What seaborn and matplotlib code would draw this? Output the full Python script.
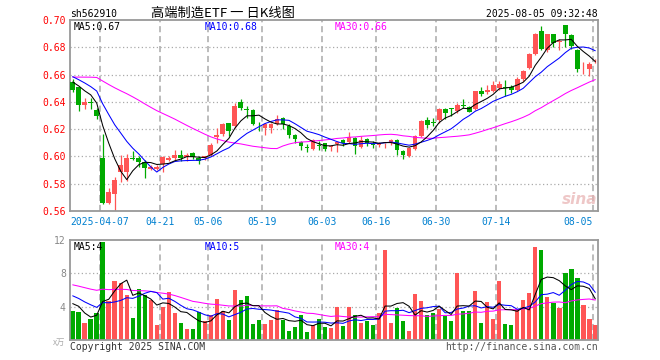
import numpy as np
import pandas as pd
import matplotlib
matplotlib.use("Agg")
import matplotlib.pyplot as plt
import seaborn as sns

# ---------------- data ----------------
open_ = [0.6548, 0.6506, 0.6380, 0.6400, 0.6338, 0.5992, 0.5659, 0.5726, 0.5886, 0.5886,
         0.5990, 0.5992, 0.5960, 0.5906, 0.5906, 0.5946, 0.5973, 0.5990, 0.6012, 0.5995,
         0.6025, 0.5985, 0.5985, 0.6012, 0.6145, 0.6162, 0.6242, 0.6223, 0.6400, 0.6345,
         0.6337, 0.6218, 0.6211, 0.6211, 0.6235, 0.6284, 0.6223, 0.6158, 0.6109, 0.6065,
         0.6053, 0.6085, 0.6095, 0.6068, 0.6088, 0.6123, 0.6104, 0.6136, 0.6069, 0.6128,
         0.6094, 0.6086, 0.6099, 0.6106, 0.6123, 0.6042, 0.6000, 0.6054, 0.6153, 0.6264,
         0.6249, 0.6264, 0.6350, 0.6350, 0.6333, 0.6378, 0.6360, 0.6347, 0.6483, 0.6470,
         0.6483, 0.6500, 0.6508, 0.6512, 0.6490, 0.6569, 0.6647, 0.6753, 0.6921, 0.6778,
         0.6896, 0.6839, 0.6967, 0.6889, 0.6778, 0.6638, 0.6643, 0.6697]
high = [0.6568, 0.6510, 0.6425, 0.6425, 0.6358, 0.6168, 0.5768, 0.5852, 0.6012, 0.6017,
        0.6037, 0.6000, 0.5975, 0.5936, 0.5938, 0.6000, 0.6000, 0.6044, 0.6049, 0.6025,
        0.6030, 0.6000, 0.6005, 0.6102, 0.6206, 0.6247, 0.6247, 0.6393, 0.6424, 0.6373,
        0.6345, 0.6255, 0.6247, 0.6247, 0.6301, 0.6291, 0.6235, 0.6162, 0.6114, 0.6090,
        0.6126, 0.6110, 0.6102, 0.6085, 0.6114, 0.6128, 0.6178, 0.6143, 0.6153, 0.6133,
        0.6111, 0.6104, 0.6102, 0.6128, 0.6128, 0.6049, 0.6069, 0.6160, 0.6264, 0.6291,
        0.6284, 0.6358, 0.6358, 0.6352, 0.6395, 0.6420, 0.6372, 0.6483, 0.6507, 0.6520,
        0.6556, 0.6556, 0.6561, 0.6520, 0.6581, 0.6630, 0.6760, 0.6908, 0.6957, 0.6901,
        0.6901, 0.6859, 0.6967, 0.6898, 0.6785, 0.6692, 0.6692, 0.6712]
low = [0.6469, 0.6333, 0.6350, 0.6345, 0.6271, 0.5649, 0.5649, 0.5597, 0.5815, 0.5817,
       0.5975, 0.5926, 0.5844, 0.5900, 0.5900, 0.5884, 0.5963, 0.5975, 0.5968, 0.5968,
       0.5980, 0.5948, 0.5975, 0.6000, 0.6102, 0.6150, 0.6150, 0.6211, 0.6337, 0.6284,
       0.6228, 0.6187, 0.6155, 0.6175, 0.6228, 0.6204, 0.6138, 0.6097, 0.6046, 0.6036,
       0.6046, 0.6046, 0.6041, 0.6041, 0.6029, 0.6074, 0.6099, 0.6020, 0.6062, 0.6074,
       0.6062, 0.6069, 0.6062, 0.6086, 0.6012, 0.5983, 0.5993, 0.6044, 0.6143, 0.6210,
       0.6222, 0.6247, 0.6271, 0.6296, 0.6321, 0.6358, 0.6323, 0.6342, 0.6441, 0.6458,
       0.6470, 0.6490, 0.6441, 0.6465, 0.6483, 0.6556, 0.6643, 0.6746, 0.6778, 0.6766,
       0.6802, 0.6778, 0.6802, 0.6790, 0.6618, 0.6606, 0.6593, 0.6687]
close = [0.6486, 0.6378, 0.6400, 0.6393, 0.6296, 0.5659, 0.5738, 0.5827, 0.5936, 0.5990,
         0.5983, 0.5960, 0.5918, 0.5923, 0.5921, 0.5997, 0.5987, 0.6012, 0.5985, 0.6012,
         0.5995, 0.5968, 0.6000, 0.6082, 0.6155, 0.6235, 0.6189, 0.6373, 0.6352, 0.6340,
         0.6235, 0.6213, 0.6235, 0.6235, 0.6272, 0.6235, 0.6155, 0.6126, 0.6078, 0.6063,
         0.6119, 0.6080, 0.6053, 0.6073, 0.6105, 0.6099, 0.6143, 0.6074, 0.6123, 0.6099,
         0.6086, 0.6099, 0.6101, 0.6123, 0.6044, 0.6012, 0.6062, 0.6153, 0.6257, 0.6234,
         0.6244, 0.6350, 0.6321, 0.6348, 0.6375, 0.6373, 0.6328, 0.6478, 0.6458, 0.6490,
         0.6520, 0.6532, 0.6505, 0.6490, 0.6569, 0.6623, 0.6753, 0.6901, 0.6790, 0.6896,
         0.6834, 0.6849, 0.6901, 0.6810, 0.6643, 0.6643, 0.6680, 0.6699]
volume = [3.52, 3.40, 2.08, 2.56, 3.28, 11.8, 4.72, 7.12, 6.84, 5.44,
          2.68, 6.16, 5.44, 4.84, 1.84, 4.00, 5.80, 3.28, 2.08, 1.36,
          1.36, 3.40, 2.32, 3.04, 4.96, 3.52, 2.44, 6.04, 4.84, 5.32,
          1.96, 2.44, 1.96, 2.44, 3.64, 2.44, 1.12, 1.60, 3.04, 1.00,
          1.84, 2.56, 1.60, 1.48, 4.00, 1.72, 4.00, 3.04, 2.08, 2.32,
          1.84, 3.28, 10.84, 2.08, 3.88, 2.32, 1.12, 5.56, 4.72, 3.04,
          3.28, 3.76, 2.92, 2.32, 8.08, 3.52, 3.52, 5.92, 2.08, 4.60,
          2.56, 7.12, 1.96, 1.84, 3.76, 4.84, 5.68, 11.2, 10.84, 5.20,
          4.48, 3.88, 8.08, 8.56, 7.48, 4.24, 2.56, 1.84]
# sessions before the visible window (estimated from where the MA lines start)
prior_close = [0.638, 0.641, 0.640, 0.636, 0.645,
               0.650, 0.655, 0.660, 0.662, 0.668, 0.670, 0.672, 0.668, 0.665, 0.662,
               0.660, 0.664, 0.668, 0.670, 0.666,
               0.660, 0.664, 0.666, 0.662, 0.660,
               0.652, 0.658, 0.654, 0.660]
prior_volume = [8.2, 7.5, 7.9, 7.4, 7.7,
                6.5, 6.0, 6.6, 6.2, 6.3,
                6.8, 6.1, 6.5, 6.2, 6.4,
                9.0, 8.6, 8.8, 8.4, 8.5,
                6.6, 6.2, 6.0, 6.4, 6.0,
                5.0, 6.1, 5.0, 2.2]
tick_index = [5, 15, 23, 32, 42, 51, 61, 71, 87]
tick_labels = ["2025-04-07", "04-21", "05-06", "05-19", "06-03",
               "06-16", "06-30", "07-14", "08-05"]
price_ticks = [0.56, 0.58, 0.60, 0.62, 0.64, 0.66, 0.68, 0.70]
volume_ticks = [4, 8, 12]

# ---------------- styling ----------------
sns.set_theme(style="white")
plt.rcParams["font.family"] = ["DejaVu Sans Mono", "Noto Sans CJK SC"]
MONO = ["DejaVu Sans Mono", "Noto Sans CJK SC"]
CJK = ["Noto Sans CJK SC", "DejaVu Sans"]
RED = "#ff5555"
GREEN = "#00aa00"
MAG = "#ff00ff"
BLUE = "#0000ff"
GRID = "#aaaaaa"
SPINE = "#999999"
LW = 0.75

n = len(close)
x = np.arange(n)
o = np.array(open_); c = np.array(close); h = np.array(high); l = np.array(low)
up = c >= o
cols = np.where(up, RED, GREEN)

all_close = pd.Series(prior_close + close)
all_vol = pd.Series(prior_volume + volume)
k = len(prior_close)
ma = {w: all_close.rolling(w).mean().to_numpy()[k:] for w in (5, 10, 30)}
vma = {w: all_vol.rolling(w).mean().to_numpy()[k:] for w in (5, 10, 30)}

W, H = 660, 360
fig = plt.figure(figsize=(6.6, 3.6), dpi=100)
fig.patch.set_facecolor("white")
ax = fig.add_axes([70 / W, 1 - 211 / H, 528 / W, 191 / H])
axv = fig.add_axes([70 / W, 1 - 340 / H, 528 / W, 100 / H])

XL = (-0.45, n - 1 + 0.45)
gridx = [t - 0.45 for t in tick_index]

# ---- price panel ----
for yv in price_ticks[1:-1]:
    ax.axhline(yv, color=GRID, lw=0.9, ls=(0, (1, 2)), zorder=0)
for gx in gridx:
    ax.axvline(gx, color=GRID, lw=1.1, ls=(0, (4, 2.5)), zorder=0)

ax.vlines(x, l, h, colors=cols, lw=0.9, zorder=2)
body_bottom = np.minimum(o, c)
body_h = np.maximum(np.abs(c - o), 0.0006)
ax.bar(x, body_h, bottom=body_bottom, width=0.8, color=cols, linewidth=0, zorder=3)

sns.lineplot(x=x, y=ma[30], ax=ax, color=MAG, lw=LW, zorder=4)
sns.lineplot(x=x, y=ma[10], ax=ax, color=BLUE, lw=LW, zorder=4)
sns.lineplot(x=x, y=ma[5], ax=ax, color="black", lw=LW, zorder=5)

ax.set_xlim(*XL)
ax.set_ylim(0.56, 0.70)
ax.set_yticks(price_ticks)
ax.set_yticklabels([f"{v:.2f}" for v in price_ticks], color="#ff0000",
                   fontsize=7, family=MONO)
ax.set_xticks(gridx)
ax.set_xticklabels(tick_labels, color="#0080d0", fontsize=7, family=MONO)
ax.get_xticklabels()[-1].set_ha("right")
ax.tick_params(axis="both", length=0)
ax.tick_params(axis="y", pad=3)
ax.tick_params(axis="x", pad=4.5)
ax.set_xlabel(""); ax.set_ylabel("")
for s in ax.spines.values():
    s.set_color(SPINE); s.set_linewidth(1.3)

# ---- volume panel ----
for yv in volume_ticks[:-1]:
    axv.axhline(yv, color=GRID, lw=0.9, ls=(0, (1, 2)), zorder=0)
for gx in gridx:
    axv.axvline(gx, color=GRID, lw=1.1, ls=(0, (4, 2.5)), zorder=0)

vdf = pd.DataFrame({"idx": x, "vol": volume, "dir": np.where(up, "up", "down")})
sns.barplot(data=vdf, x="idx", y="vol", hue="dir", palette={"up": RED, "down": GREEN},
            dodge=False, width=0.75, saturation=1, legend=False, ax=axv, zorder=2,
            linewidth=0)
sns.lineplot(x=x, y=vma[30], ax=axv, color=MAG, lw=LW, zorder=4)
sns.lineplot(x=x, y=vma[10], ax=axv, color=BLUE, lw=LW, zorder=4)
sns.lineplot(x=x, y=vma[5], ax=axv, color="black", lw=LW, zorder=5)

axv.set_xlim(*XL)
axv.set_ylim(0, 12)
axv.set_xticks([])
axv.set_yticks(volume_ticks)
axv.set_yticklabels([str(v) for v in volume_ticks], color="#888888",
                    fontsize=7, family=MONO)
axv.tick_params(axis="both", length=0)
axv.tick_params(axis="y", pad=3)
axv.set_xlabel(""); axv.set_ylabel("")
for s in axv.spines.values():
    s.set_color(SPINE); s.set_linewidth(1.3)


def ftext(px, py, s, **kw):
    fig.text(px / W, 1 - py / H, s, **kw)


# ---- texts ----
ftext(70, 16.8, "sh562910", ha="left", va="baseline", fontsize=7, family=MONO, color="black")
ftext(223, 16.5, "高端制造ETF 一 日K线图", ha="center", va="baseline", fontsize=9.5,
      family=CJK, color="black")
ftext(598, 16.8, "2025-08-05 09:32:48", ha="right", va="baseline", fontsize=7,
      family=MONO, color="black")
ftext(74, 30, "MA5:0.67", ha="left", va="baseline", fontsize=7, family=MONO, color="black")
ftext(205, 30, "MA10:0.68", ha="left", va="baseline", fontsize=7, family=MONO, color=BLUE)
ftext(335, 30, "MA30:0.66", ha="left", va="baseline", fontsize=7, family=MONO, color=MAG)
ftext(74, 249.5, "MA5:4", ha="left", va="baseline", fontsize=7, family=MONO, color="black")
ftext(205, 249.5, "MA10:5", ha="left", va="baseline", fontsize=7, family=MONO, color=BLUE)
ftext(335, 249.5, "MA30:4", ha="left", va="baseline", fontsize=7, family=MONO, color=MAG)
ftext(65, 345, "x万", ha="right", va="baseline", fontsize=6, family=CJK, color="#aaaaaa")
ftext(70, 349.5, "Copyright 2025 SINA.COM", ha="left", va="baseline", fontsize=7,
      family=MONO, color="#333333")
ftext(598, 349.5, "http://finance.sina.com.cn", ha="right", va="baseline", fontsize=7,
      family=MONO, color="#555555")
ftext(580, 204, "sina", ha="center", va="baseline", fontsize=11, family=["DejaVu Sans"],
      fontweight="bold", fontstyle="italic", color="#e8b0b0", alpha=0.7)

fig.savefig("out.png", dpi=100, facecolor="white")
